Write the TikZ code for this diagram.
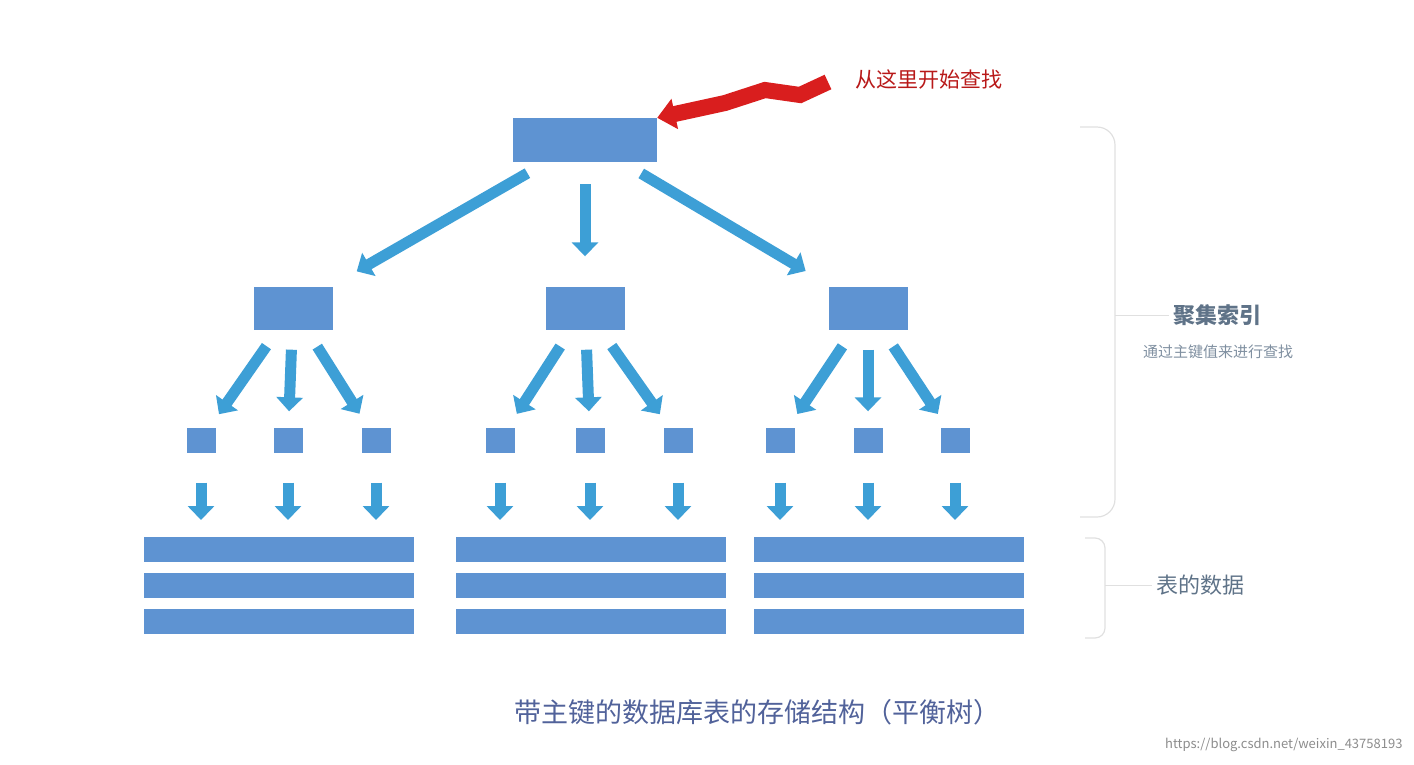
\documentclass[tikz,border=0pt]{standalone}
\usepackage{fontspec}
\setmainfont{Noto Sans CJK SC}
\usetikzlibrary{arrows.meta}
\definecolor{boxblue}{HTML}{5E93D2}
\definecolor{arrblue}{HTML}{3D9FD6}
\definecolor{zigred}{HTML}{D91E1E}
\definecolor{labgray}{HTML}{5F7388}
\tikzset{
  blk/.style={fill=boxblue, draw=none, inner sep=0pt},
  blarrow/.style={draw=arrblue, line width=11pt, -{Triangle[length=14pt,width=26pt]}},
  brace/.style={draw=black!12, line width=1.2pt, rounded corners=18pt},
}
\begin{document}
\begin{tikzpicture}[x=1pt, y=-1pt]
\useasboundingbox (0,0) rectangle (1414,764);
% root
\node[blk, minimum width=144pt, minimum height=44pt] (root) at (585,140) {};
% middle level
\foreach \n/\x in {a/293, b/585, c/868} {
  \node[blk, minimum width=79pt, minimum height=43pt] (mid\n) at (\x,308) {};
  \draw[blarrow, shorten <=22pt, shorten >=30pt] (root) -- (mid\n);
}
% leaves and data bars
\foreach \n/\xa/\xb/\xc/\xd in {a/201/288/376/279, b/500/590/678/591, c/780/868/955/889} {
  \foreach \k/\x in {1/\xa, 2/\xb, 3/\xc} {
    \node[blk, minimum width=29pt, minimum height=25pt] (leaf\n\k) at (\x,440) {};
    \draw[blarrow, shorten <=20pt, shorten >=16pt] (mid\n) -- (leaf\n\k);
    \coordinate (data\n\k) at (\x,520);
    \draw[blarrow, shorten <=30pt] (leaf\n\k) -- (data\n\k);
  }
  \foreach \r/\y in {1/549.5, 2/585.5, 3/621.5}
    \node[blk, minimum width=270pt, minimum height=25pt] (bar\n\r) at (\xd,\y) {};
}
% red arrow
\coordinate (zstart) at (828,82);
\draw[zigred, line width=16pt, line join=miter, -{Triangle[length=18pt,width=30pt]}]
  (zstart) -- (800,95) -- (765,90) -- (725,103) -- (root.north east);
\node[text=zigred!85!black, font=\fontsize{21}{24}\selectfont, anchor=west] (start) at (852,79) {从这里开始查找};
% braces
\draw[brace] (1080,127) -- (1115,127) -- (1115,517) -- (1080,517);
\draw[brace, rounded corners=10pt] (1085,538) -- (1105,538) -- (1105,638) -- (1085,638);
\node[text=labgray, font=\fontsize{22}{26}\selectfont\bfseries] (idx) at (1217,315) {聚集索引};
\draw[black!12, line width=1pt] (1115,315) -- (idx.west);
\node[text=labgray!80, font=\fontsize{15}{18}\selectfont] (idxsub) at (1218,352) {通过主键值来进行查找};
\node[text=labgray, font=\fontsize{22}{26}\selectfont] (tbl) at (1200,585) {表的数据};
\draw[black!12, line width=1pt] (1105,585) -- (tbl.west);
% caption
\node[text=labgray!85!blue, font=\fontsize{27}{30}\selectfont] (cap) at (757,712) {带主键的数据库表的存储结构（平衡树）};
\node[text=black!45, font=\fontsize{13}{15}\selectfont, anchor=east] (wm) at (1406,745) {https://blog.csdn.net/weixin\_43758193};
\end{tikzpicture}
\end{document}
